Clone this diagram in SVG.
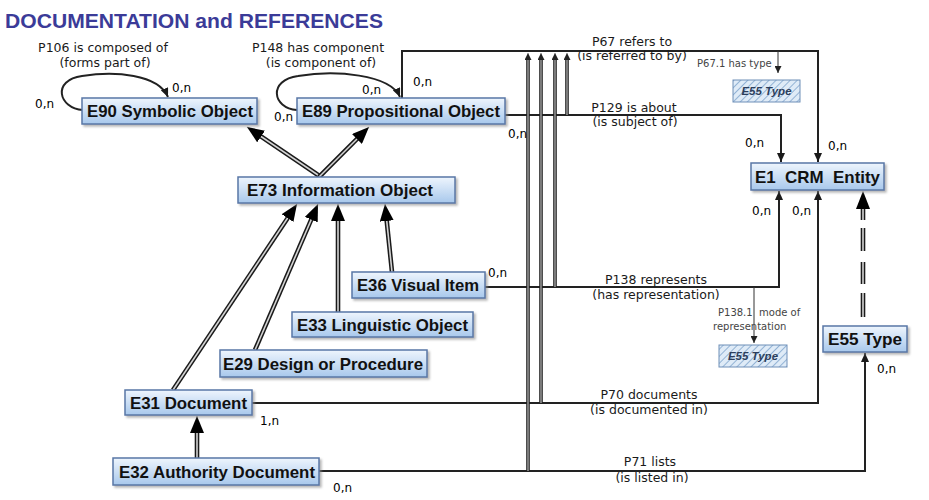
<svg xmlns="http://www.w3.org/2000/svg" width="929" height="500" viewBox="0 0 929 500">
<defs>
<style>
.box{fill:url(#boxg);stroke:#5877a6;stroke-width:1.5;filter:url(#sh)}
.hb{fill:url(#hatch);stroke:#6f8fb8;stroke-width:1}
.nt{font-family:"Liberation Sans",Arial,sans-serif;font-weight:bold;font-size:17px;fill:#111;white-space:pre}
.ht{font-family:"Liberation Sans",Arial,sans-serif;font-weight:bold;font-style:italic;font-size:11.5px;fill:#2c3e5c;text-anchor:middle}
.lbl{font-family:"DejaVu Sans",Verdana,sans-serif;font-size:12.5px;fill:#1a1a1a;text-anchor:middle}
.card{font-family:"DejaVu Sans",Verdana,sans-serif;font-size:12px;fill:#000}
.sm{font-family:"DejaVu Sans",Verdana,sans-serif;font-size:10px;fill:#444;white-space:pre}
.ln{fill:none;stroke:#222;stroke-width:2}
.thin{fill:none;stroke:#333;stroke-width:1}
.dbo{fill:none;stroke:#1a1a1a;stroke-width:4.6}
.dbi{fill:none;stroke:#d4d4d4;stroke-width:1.6}
.svo{fill:none;stroke:#222;stroke-width:3.6}
.svi{fill:none;stroke:#b8b8b8;stroke-width:1.2}
</style>
<linearGradient id="boxg" x1="0" y1="0" x2="0" y2="1">
<stop offset="0" stop-color="#eef5fd"/>
<stop offset="1" stop-color="#a8c8ec"/>
</linearGradient>
<pattern id="hatch" width="5" height="5" patternUnits="userSpaceOnUse" patternTransform="rotate(45)">
<rect width="5" height="5" fill="#dfebf7"/>
<line x1="0" y1="0" x2="0" y2="5" stroke="#8aadd2" stroke-width="1.8"/>
</pattern>
<filter id="sh" x="-10%" y="-20%" width="130%" height="160%">
<feDropShadow dx="2" dy="2" stdDeviation="1" flood-color="#888" flood-opacity="0.6"/>
</filter>
<marker id="a" markerUnits="userSpaceOnUse" markerWidth="10" markerHeight="8" refX="9" refY="4" orient="auto">
<path d="M0,0 L9,4 L0,8 z" fill="#1a1a1a"/>
</marker>
<marker id="sa" markerUnits="userSpaceOnUse" markerWidth="8" markerHeight="7" refX="7" refY="3.5" orient="auto">
<path d="M0,0 L7,3.5 L0,7 z" fill="#222"/>
</marker>
<marker id="isa" markerUnits="userSpaceOnUse" markerWidth="18" markerHeight="14" refX="17" refY="7" orient="auto">
<path d="M0,0 L17,7 L0,14 z" fill="#000"/>
</marker>
</defs>
<rect width="929" height="500" fill="#fff"/>
<text x="5" y="28" textLength="378" lengthAdjust="spacingAndGlyphs" style="font-family:'Liberation Sans',Arial,sans-serif;font-weight:bold;font-size:19.5px;fill:#3b3b98">DOCUMENTATION and REFERENCES</text>

<g id="connectors">
<path class="ln" d="M83,110 C58,108 52,80 82,76 C115,71 158,74 168,97" marker-end="url(#a)"/>
<path class="ln" d="M297,110 C272,108 268,80 298,76 C335,70 390,74 400,97" marker-end="url(#a)"/>
<path class="ln" d="M402,98 V51 H818 V162" marker-end="url(#a)"/>
<path class="thin" d="M778,51 V73" marker-end="url(#sa)"/>
<path class="ln" d="M505,115 H781 V162" marker-end="url(#a)"/>
<path class="ln" d="M485,287 H779 V191" marker-end="url(#a)"/>
<path class="thin" d="M754,287 V343" marker-end="url(#sa)"/>
<path class="ln" d="M252,403 H818 V191" marker-end="url(#a)"/>
<path class="ln" d="M319,471 H865 V353" marker-end="url(#a)"/>
<path class="svo" d="M528,471 V58 M541,403 V58 M555,287 V58 M567,115 V58"/>
<path class="svi" d="M528,471 V53" marker-end="url(#sa)"/>
<path class="svi" d="M541,403 V53" marker-end="url(#sa)"/>
<path class="svi" d="M555,287 V53" marker-end="url(#sa)"/>
<path class="svi" d="M567,115 V53" marker-end="url(#sa)"/>
<path class="dbo" d="M321,177 L253.6,131.5"/>
<path class="dbi" d="M321,177 L247,127" marker-end="url(#isa)"/>
<path class="dbo" d="M319,177 L363.3,132.7"/>
<path class="dbi" d="M319,177 L369,127" marker-end="url(#isa)"/>
<path class="dbo" d="M173,390 L292.6,210.7"/>
<path class="dbi" d="M173,390 L297,204" marker-end="url(#isa)"/>
<path class="dbo" d="M255,350 L314.8,211.3"/>
<path class="dbi" d="M255,350 L318,204" marker-end="url(#isa)"/>
<path class="dbo" d="M338,312 L338,212"/>
<path class="dbi" d="M338,312 L338,204" marker-end="url(#isa)"/>
<path class="dbo" d="M392,272 L385.8,212"/>
<path class="dbi" d="M392,272 L385,204" marker-end="url(#isa)"/>
<path class="dbo" d="M197,458 L197,424"/>
<path class="dbi" d="M197,458 L197,416" marker-end="url(#isa)"/>
<path class="dbo" d="M863,317 V293 M863,284 V262 M863,251 V228 M863,220 V200"/>
<path class="dbi" d="M863,317 V293 M863,284 V262 M863,251 V228 M863,220 V205"/>
<path d="M856,209 L870,209 L863,191 z" fill="#000"/>
</g>

<g id="labels">
<text class="lbl" x="103" y="52">P106 is composed of</text>
<text class="lbl" x="105" y="67">(forms part of)</text>
<text class="lbl" x="318" y="52">P148 has component</text>
<text class="lbl" x="321" y="67">(is component of)</text>
<text class="lbl" x="632" y="46">P67 refers to</text>
<text class="lbl" x="632" y="60">(is referred to by)</text>
<text class="sm" x="697" y="67">P67.1 has type</text>
<text class="lbl" x="634" y="112">P129 is about</text>
<text class="lbl" x="635" y="126">(is subject of)</text>
<text class="lbl" x="656" y="284">P138 represents</text>
<text class="lbl" x="656" y="299">(has representation)</text>
<text class="sm" x="718" y="316">P138.1  mode of</text>
<text class="sm" x="713" y="330">representation</text>
<text class="lbl" x="649" y="399">P70 documents</text>
<text class="lbl" x="649" y="414">(is documented in)</text>
<text class="lbl" x="650" y="466">P71 lists</text>
<text class="lbl" x="652" y="482">(is listed in)</text>
<text class="card" x="172" y="92">0,n</text>
<text class="card" x="35" y="108">0,n</text>
<text class="card" x="362" y="94">0,n</text>
<text class="card" x="413" y="86">0,n</text>
<text class="card" x="274" y="121">0,n</text>
<text class="card" x="508" y="138">0,n</text>
<text class="card" x="745" y="147">0,n</text>
<text class="card" x="828" y="150">0,n</text>
<text class="card" x="752" y="215">0,n</text>
<text class="card" x="792" y="215">0,n</text>
<text class="card" x="488" y="277">0,n</text>
<text class="card" x="260" y="425">1,n</text>
<text class="card" x="333" y="492">0,n</text>
<text class="card" x="877" y="373">0,n</text>
</g>

<g id="E90"><rect class="box" x="82" y="98" width="175" height="26"/><text class="nt" x="87" y="117" textLength="166" lengthAdjust="spacingAndGlyphs">E90 Symbolic Object</text></g>
<g id="E89"><rect class="box" x="297" y="98" width="208" height="26"/><text class="nt" x="302" y="117" textLength="198" lengthAdjust="spacingAndGlyphs">E89 Propositional Object</text></g>
<g id="E73"><rect class="box" x="238" y="177" width="217" height="26"/><text class="nt" x="247" y="196" textLength="186" lengthAdjust="spacingAndGlyphs">E73 Information Object</text></g>
<g id="E36"><rect class="box" x="352" y="272" width="133" height="26"/><text class="nt" x="357" y="291" textLength="122" lengthAdjust="spacingAndGlyphs">E36 Visual Item</text></g>
<g id="E33"><rect class="box" x="292" y="312" width="181" height="25"/><text class="nt" x="297" y="330.5" textLength="171" lengthAdjust="spacingAndGlyphs">E33 Linguistic Object</text></g>
<g id="E29"><rect class="box" x="220" y="350" width="207" height="27"/><text class="nt" x="223" y="369.5" textLength="200" lengthAdjust="spacingAndGlyphs">E29 Design or Procedure</text></g>
<g id="E31"><rect class="box" x="125" y="390" width="127" height="25"/><text class="nt" x="130" y="408.5" textLength="117" lengthAdjust="spacingAndGlyphs">E31 Document</text></g>
<g id="E32"><rect class="box" x="113" y="458" width="206" height="27"/><text class="nt" x="119" y="477.5" textLength="196" lengthAdjust="spacingAndGlyphs">E32 Authority Document</text></g>
<g id="E1"><rect class="box" x="751" y="163" width="133" height="27"/><text class="nt" x="755" y="182.5" textLength="125" lengthAdjust="spacingAndGlyphs">E1  CRM  Entity</text></g>
<g id="E55"><rect class="box" x="823" y="326" width="84" height="26"/><text class="nt" x="828" y="345" textLength="74" lengthAdjust="spacingAndGlyphs">E55 Type</text></g>
<g id="E55a"><rect class="hb" x="733" y="80" width="67" height="22"/><text class="ht" x="766.5" y="95">E55 Type</text></g>
<g id="E55b"><rect class="hb" x="719" y="345" width="68" height="22"/><text class="ht" x="753" y="360">E55 Type</text></g>
</svg>
